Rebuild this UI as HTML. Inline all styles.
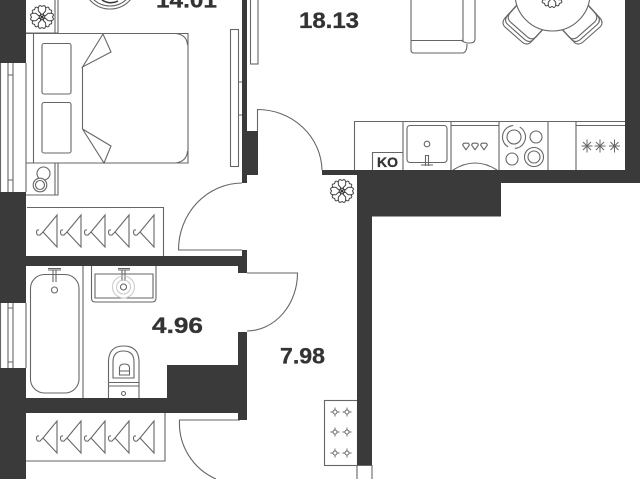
<!DOCTYPE html>
<html><head><meta charset="utf-8"><style>
html,body{margin:0;padding:0;background:#fff;overflow:hidden}
svg{display:block;filter:blur(.3px)}
.l{fill:none;stroke:#666;stroke-width:1.1}
text{font-family:"Liberation Sans",sans-serif;font-weight:bold;fill:#333;stroke:#333;stroke-width:.3}
</style></head><body>
<svg width="640" height="479" viewBox="0 0 640 479" xmlns="http://www.w3.org/2000/svg">
<defs>
<g id="h" class="l"><path d="M0 0V32L-14 17ZM-14 17L-17 20Q-20.500 21-20.500 17Q-20.500 14.500-18 15"/></g>
<path id="p" d="M0-2L-3.600-6Q-4.200-11-2-11.500L0-10.500L2-11.500Q4.200-11 3.600-6Z" fill="#fff" stroke="#444" stroke-width="1"/>
<g id="f">
<use href="#p" transform="rotate(45)"/><use href="#p" transform="rotate(135)"/><use href="#p" transform="rotate(225)"/><use href="#p" transform="rotate(315)"/>
<use href="#p"/><use href="#p" transform="rotate(90)"/><use href="#p" transform="rotate(180)"/><use href="#p" transform="rotate(270)"/>
<circle r="1.300" fill="#333"/>
</g>
<g id="s" class="l" style="stroke-width:.9"><path d="M-4.500 0H-2M2 0H4.500M0-4.500V-2M0 2V4.500"/><circle r="2"/></g>
<path id="st" class="l" style="stroke-width:1" d="M-5.500 0H5.500M0-6.500V6.500M-4-4L4 4M-4 4L4-4"/>
<path id="d" class="l" d="M0 3.800L-3.300-.8A2.300 2.300 0 0 1-2-2.800H2A2.300 2.300 0 0 1 3.300-.8Z" stroke-linejoin="round"/>
<path id="c" d="M518 3.700L505 18Q501 23 505 27L522 42Q527 46 531 42L544 28"/>
</defs>

<!-- thin outlines -->
<g class="l">
<!-- left windows -->
<path d="M0.500 63V192M26 63V192M8 63V192M13 63V192M8 75H13M8 180H13"/>
<path d="M0.500 303V368M26 303V368M8 303V368M13 303V368M8 308H13M8 362H13"/>
<!-- nightstands -->
<path d="M26 33H58V0M55 0V33"/>
<path d="M26 195H58V163M55 163V195"/>
<!-- bed -->
<path d="M26 33.500H188V163H26M33.500 33V163"/>
<path d="M176 33.500Q187 35 187.500 45M176 163Q187 161 187.500 151"/>
<rect x="42" y="43.500" width="29" height="50.500" rx="2"/>
<rect x="42" y="102.500" width="29" height="50.500" rx="2"/>
<path d="M82.500 67V129M82.500 67L103 34L111 52ZM82.500 129L104 163L111 146Z"/>
<circle cx="43.500" cy="173.500" r="6.500"/><circle cx="40" cy="185" r="6.800" style="fill:#fff"/><circle cx="40" cy="185" r="4.500"/>
<!-- wardrobe panel -->
<rect x="230.500" y="29.500" width="8" height="137"/>
<path d="M239 82H242M239 115H242"/>
<rect x="250.500" y="-2" width="7.500" height="66"/>
<!-- closets -->
<path d="M27 207.500H163.500V256"/>
<path d="M26 461H165V413"/>
<!-- doors -->
<path d="M257.500 131V109.500A64.500 62 0 0 1 322 170"/>
<path d="M242 250H178.500A64 67 0 0 1 242 183"/>
<path d="M247 273H297.500A51 58 0 0 1 247 331"/>
<path d="M240 420H179.500A61 61 0 0 0 216 479"/>
<!-- bath -->
<rect x="30.500" y="274.500" width="48.500" height="118.500" rx="14"/>
<path d="M83 265V398"/>
<circle cx="54.500" cy="290" r="3"/>
<path d="M48 270H61M48 268.500H61M53 270V282M56 270V282"/>
<!-- sink -->
<path d="M91.500 265V298Q91.500 302 95 302H152Q156 302 156 298V265"/>
<path d="M95 274H153V298H95Z"/>
<circle cx="123.500" cy="287" r="3"/>
<path d="M118 268.500H130M118 270H130M122 270V281M125 270V281"/>
<g style="stroke:#ccc"><circle cx="123.500" cy="287" r="7"/><circle cx="123.500" cy="287" r="11"/></g>
<!-- toilet -->
<path d="M108.500 398V361Q109 346 123.500 346Q138.500 346 139 361V398"/>
<path d="M113 378V362Q113 351 123.500 351Q134 351 134 362V378Z"/>
<path d="M108.500 382.500H139M108.500 386H139"/>
<path d="M119.500 375V368Q119.500 364 124.500 364Q129.500 364 129.500 368V375ZM119.500 371H129.500"/>
<circle cx="123.500" cy="393.500" r="2"/>
<!-- shoe cabinet -->
<rect x="324.500" y="400.500" width="33" height="65"/>
<path d="M357 465V479M372 465V479M357 465.500H372"/>
<!-- kitchen -->
<path d="M354.500 170V121.500H625M403 121V170M451 121V170M499 121V170M548 121V170M576 121V170M451 125.500H499M576 125.500H625"/>
<path d="M372.500 170V152.500H403"/>
<rect x="407" y="125.500" width="40" height="37" rx="3"/>
<circle cx="427" cy="144" r="2.800"/>
<path d="M425.500 166V155.500H428.500V166M421 165H433"/>
<path d="M453 170Q475 156 497 170"/>
<circle cx="514" cy="137" r="7"/>
<circle cx="514" cy="137" r="11.500" stroke-dasharray="29 7" transform="rotate(-60 514 137)"/>
<circle cx="536" cy="137" r="6"/>
<circle cx="512" cy="159" r="6"/>
<circle cx="534" cy="157" r="9.500"/><circle cx="534" cy="157" r="6"/>
<!-- sofa -->
<path d="M411 -2V40.500H463V-2"/>
<path d="M475 -2V39Q475 43 470 43H467Q463 42 461 40"/>
<path d="M411 40.500V50Q411 53 414 53H463Q467 52 467 44"/>
</g>

<use href="#d" x="466" y="146"/><use href="#d" x="475" y="146"/><use href="#d" x="484" y="146"/>
<use href="#st" x="587" y="146"/><use href="#st" x="600" y="146"/><use href="#st" x="614.500" y="146"/>
<use href="#s" x="335" y="412"/><use href="#s" x="347" y="412"/>
<use href="#s" x="335" y="432"/><use href="#s" x="347" y="432"/>
<use href="#s" x="335" y="453"/><use href="#s" x="347" y="453"/>

<!-- chairs + table -->
<g class="l">
<use href="#c"/><use href="#c" transform="translate(2.600 -2.600)"/><use href="#c" transform="translate(5.200 -5.200)"/>
<g transform="translate(1105 0) scale(-1 1)"><use href="#c"/><use href="#c" transform="translate(2.600 -2.600)"/><use href="#c" transform="translate(5.200 -5.200)"/></g>
</g>
<circle cx="552.500" cy="-6.500" r="37.500" fill="#fff" stroke="#666" stroke-width="1.100"/>
<circle cx="110" cy="-18" r="27" fill="none" stroke="#666" stroke-width="1.100"/>
<circle cx="110" cy="-18" r="24" fill="none" stroke="#666" stroke-width="1.100"/>
<path d="M102 0Q110 5 118 1" fill="none" stroke="#333" stroke-width="1.500"/>

<use href="#f" transform="translate(552 -4)"/>
<use href="#f" transform="translate(42 17)"/>
<use href="#f" transform="translate(342 191)"/>

<use href="#h" x="57" y="215"/><use href="#h" x="81" y="215"/><use href="#h" x="105" y="215"/><use href="#h" x="129" y="215"/><use href="#h" x="154" y="215"/>
<use href="#h" x="57" y="421"/><use href="#h" x="81" y="421"/><use href="#h" x="105" y="421"/><use href="#h" x="129" y="421"/><use href="#h" x="154" y="421"/>

<!-- walls -->
<g fill="#3a3a3a">
<rect x="0" y="0" width="26" height="63"/>
<rect x="0" y="192" width="26" height="111"/>
<rect x="0" y="368" width="26" height="111"/>
<rect x="26" y="256" width="216" height="10"/>
<rect x="242" y="250" width="5" height="23"/>
<rect x="238" y="256" width="9" height="17"/>
<rect x="238" y="332" width="9" height="88"/>
<rect x="167" y="365" width="75" height="48"/>
<rect x="26" y="398" width="214" height="15"/>
<rect x="242" y="0" width="5" height="183"/>
<rect x="242" y="131" width="16" height="44"/>
<rect x="322" y="170" width="36" height="5"/>
<rect x="357" y="170" width="144" height="46.500"/>
<rect x="501" y="170" width="139" height="13"/>
<rect x="625" y="0" width="15" height="183"/>
<rect x="357" y="216" width="15" height="249"/>
</g>

<text x="156" y="7.500" font-size="22" textLength="61" lengthAdjust="spacingAndGlyphs">14.01</text>
<text x="299" y="28" font-size="22" textLength="60" lengthAdjust="spacingAndGlyphs">18.13</text>
<text x="152" y="333" font-size="22" textLength="51" lengthAdjust="spacingAndGlyphs">4.96</text>
<text x="280" y="363.500" font-size="22" textLength="45" lengthAdjust="spacingAndGlyphs">7.98</text>
<text x="377" y="167" font-size="14" textLength="21" lengthAdjust="spacingAndGlyphs">KO</text>
</svg>
</body></html>
